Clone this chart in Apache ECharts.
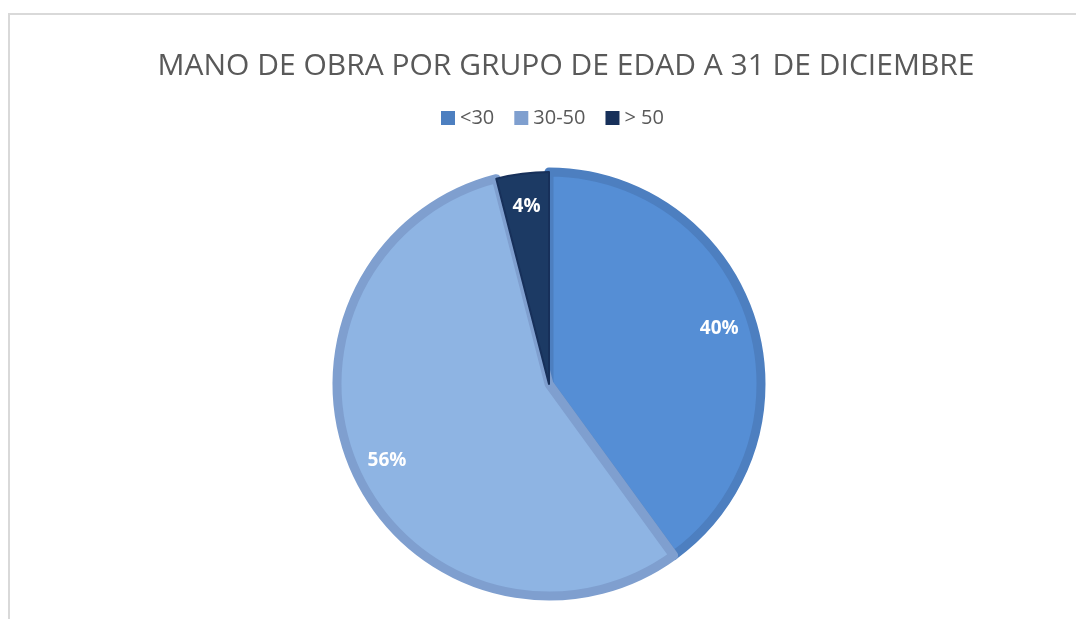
<!DOCTYPE html>
<html>
<head>
<meta charset="utf-8">
<script src="https://cdn.jsdelivr.net/npm/echarts@6/dist/echarts.min.js"></script>
<style>html,body{margin:0;padding:0;background:#fff;}#c{width:1076px;height:619px;}</style>
</head>
<body>
<div id="c"></div>
<script>
const categories = ['<30', '30-50', '> 50'];
const values = [40, 56, 4];
const fills = ['#558ed5', '#8eb4e3', '#1c3a64'];
const borders = ['#4d7fc0', '#7f9fcf', '#17305a'];
const titleText = 'MANO DE OBRA POR GRUPO DE EDAD A 31 DE DICIEMBRE';

const chart = echarts.init(document.getElementById('c'));
const data = categories.map((c, i) => ({
  name: c, value: values[i],
  itemStyle: { color: fills[i], borderColor: borders[i], borderWidth: i === 2 ? 2 : 9 }
}));
chart.setOption({
  animation: false,
  graphic: [{
    type: 'rect', silent: true,
    shape: { x: 9, y: 14, width: 2000, height: 2000 },
    style: { fill: 'none', stroke: '#d9d9d9', lineWidth: 2 }
  }, {
    type: 'text', silent: true, x: 566, y: 66,
    style: {
      text: titleText, align: 'center', verticalAlign: 'middle',
      font: 'normal 30px "Open Sans"', fill: '#595959'
    }
  }],
  legend: {
    data: categories.map((c, i) => ({ name: c, itemStyle: { color: borders[i], borderWidth: 0 } })),
    top: 103, left: 436,
    icon: 'rect', itemWidth: 14, itemHeight: 14, itemGap: 20,
    textStyle: { fontFamily: 'Open Sans', fontSize: 20, color: '#595959' }
  },
  series: [{
    type: 'pie', center: [549, 384], radius: [0, 212],
    startAngle: 90, clockwise: true,
    label: { show: false }, labelLine: { show: false },
    emphasis: { disabled: true },
    data: data
  }, {
    type: 'pie', center: [549, 384], radius: [135, 217], silent: true,
    startAngle: 90, clockwise: true,
    itemStyle: { color: 'rgba(0,0,0,0)' },
    label: {
      show: true, position: 'inside',
      formatter: p => p.value + '%',
      fontFamily: 'Open Sans', fontWeight: 'bold', fontSize: 19, color: '#ffffff'
    },
    labelLine: { show: false },
    emphasis: { disabled: true },
    legendHoverLink: false,
    data: categories.map((c, i) => ({ name: c, value: values[i] }))
  }]
});
</script>
</body>
</html>
